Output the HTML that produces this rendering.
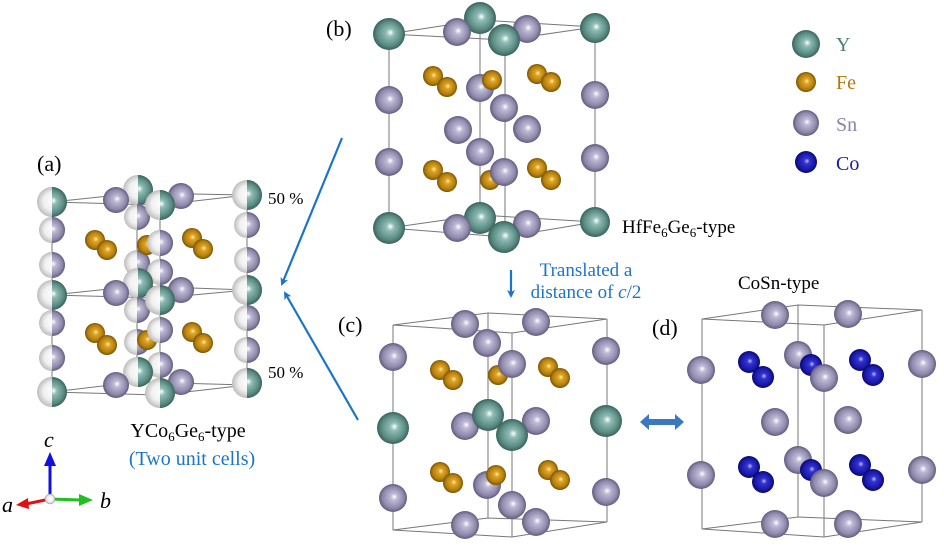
<!DOCTYPE html>
<html><head><meta charset="utf-8"><style>
html,body{margin:0;padding:0;background:#fff;}
svg{display:block;}
text{font-family:"Liberation Serif",serif;}
</style></head><body>
<svg id="s" width="944" height="554" viewBox="0 0 944 554" xmlns="http://www.w3.org/2000/svg">
<defs>
<radialGradient id="gY" cx="0.5" cy="0.5" r="0.5" fx="0.55" fy="0.45"><stop offset="0" stop-color="#ffffff"/><stop offset="0.25" stop-color="#8fbcb4"/><stop offset="0.75" stop-color="#5a8c84"/><stop offset="1" stop-color="#3b635c"/></radialGradient>
<radialGradient id="gS" cx="0.5" cy="0.5" r="0.5" fx="0.55" fy="0.45"><stop offset="0" stop-color="#ffffff"/><stop offset="0.25" stop-color="#bcb8d4"/><stop offset="0.75" stop-color="#8f8aab"/><stop offset="1" stop-color="#625c80"/></radialGradient>
<radialGradient id="gF" cx="0.5" cy="0.5" r="0.5" fx="0.55" fy="0.45"><stop offset="0" stop-color="#fff3b0"/><stop offset="0.25" stop-color="#e0a528"/><stop offset="0.75" stop-color="#b37e0c"/><stop offset="1" stop-color="#7a5200"/></radialGradient>
<radialGradient id="gC" cx="0.5" cy="0.5" r="0.5" fx="0.55" fy="0.45"><stop offset="0" stop-color="#c0c0ff"/><stop offset="0.25" stop-color="#3434d0"/><stop offset="0.75" stop-color="#1818a8"/><stop offset="1" stop-color="#08086a"/></radialGradient>
<radialGradient id="gW" cx="0.5" cy="0.5" r="0.5" fx="0.55" fy="0.45"><stop offset="0" stop-color="#ffffff"/><stop offset="0.6" stop-color="#f0f0f0"/><stop offset="1" stop-color="#bdbdbd"/></radialGradient>
<clipPath id="half" clipPathUnits="objectBoundingBox"><rect x="0.5" y="0" width="0.5" height="1"/></clipPath>
<marker id="ah" markerWidth="8" markerHeight="8" refX="6" refY="4" orient="auto" markerUnits="userSpaceOnUse"><path d="M0,0 L8,4 L0,8 L2,4 Z" fill="#1a75c7"/></marker>
</defs>
<g fill="none" stroke="#777" stroke-width="1">
<path d="M52,202 L137,193 L247,195 L160,205 Z M52,295 L137,286 L247,290 L160,298 Z M52,392 L137,382 L247,385 L160,395 Z M52,202 V392 M137,193 V382 M160,205 V395 M247,195 V385"/>
<path d="M389,34 L480,20 L595,27 L505,40 Z M389,228 L480,215 L595,222 L505,237 Z M389,34 V228 M480,20 V215 M505,40 V237 M595,27 V222"/>
<path d="M393,325 L488,313 L607,319 L512,333 Z M393,530 L488,518 L607,522 L512,537 Z M393,325 V530 M488,313 V518 M512,333 V537 M607,319 V522"/>
<path d="M702,319 L798,305 L922,310 L824,325 Z M702,529 L798,517 L922,522 L824,537 Z M702,319 V529 M798,305 V517 M824,325 V537 M922,310 V522"/>
</g>
<g id="atoms"></g>
<line x1="342" y1="138" x2="282" y2="284" stroke="#1a75c7" stroke-width="2.2" marker-end="url(#ah)"/>
<line x1="358" y1="420" x2="285" y2="293" stroke="#1a75c7" stroke-width="2.2" marker-end="url(#ah)"/>
<line x1="511" y1="270" x2="511" y2="296" stroke="#1a75c7" stroke-width="2.2" marker-end="url(#ah)"/>
<path d="M640,422 L649,414 L649,419 L675,419 L675,414 L684,422 L675,430 L675,425 L649,425 L649,430 Z" fill="#3a78c0"/>
<line x1="50" y1="499" x2="50" y2="464" stroke="#1010e0" stroke-width="3"/><path d="M44,466 L50,452 L56,466 Z" fill="#1010e0"/>
<line x1="50" y1="499" x2="26" y2="504" stroke="#e01010" stroke-width="3"/><path d="M28,498 L16,505 L29,509 Z" fill="#e01010"/>
<line x1="50" y1="499" x2="80" y2="500" stroke="#20c020" stroke-width="3"/><path d="M79,494 L93,500 L79,506 Z" fill="#20c020"/>
<circle cx="50" cy="499" r="5" fill="url(#gW)" stroke="#999" stroke-width="0.5"/>
<text x="44" y="447" font-size="22" font-style="italic">c</text>
<text x="2" y="512" font-size="22" font-style="italic">a</text>
<text x="100" y="508" font-size="22" font-style="italic">b</text>
<text x="37" y="171" font-size="22">(a)</text>
<text x="326" y="36" font-size="22">(b)</text>
<text x="338" y="332" font-size="22">(c)</text>
<text x="652" y="335" font-size="22">(d)</text>
<text x="268" y="204" font-size="17">50 %</text>
<text x="268" y="378" font-size="17">50 %</text>
<text x="622" y="233" font-size="19">HfFe<tspan font-size="13" dy="4">6</tspan><tspan dy="-4">Ge</tspan><tspan font-size="13" dy="4">6</tspan><tspan dy="-4">-type</tspan></text>
<text x="586" y="276" font-size="19" fill="#1a75c7" text-anchor="middle">Translated a</text>
<text x="586" y="298" font-size="19" fill="#1a75c7" text-anchor="middle">distance of <tspan font-style="italic">c</tspan>/2</text>
<text x="738" y="289" font-size="19">CoSn-type</text>
<text x="188" y="437" font-size="20" text-anchor="middle">YCo<tspan font-size="13" dy="4">6</tspan><tspan dy="-4">Ge</tspan><tspan font-size="13" dy="4">6</tspan><tspan dy="-4">-type</tspan></text>
<text x="192" y="465" font-size="20" fill="#1a75c7" text-anchor="middle">(Two unit cells)</text>
<text x="836" y="51" font-size="20" fill="#4e7d75">Y</text>
<text x="836" y="89" font-size="20" fill="#b07a10">Fe</text>
<text x="836" y="131" font-size="20" fill="#8a85a8">Sn</text>
<text x="836" y="170" font-size="20" fill="#1a1aa8">Co</text>
<script>
var A=[
['Y',806,44,14],['F',806,82,10],['S',806,123,13],['C',806,162,11],
['yw',138,190,15],['sw',137,217,13],['yw',52,202,15],['sw',52,230,13],['sw',52,265,13],['yw',52,295,15],['sw',52,323,13],['sw',52,358,13],['yw',52,392,15],
['yw',247,195,15],['sw',247,225,13],['sw',247,260,13],['yw',247,290,15],['sw',247,318,13],['sw',247,350,13],['yw',247,383,15],
['S',116,200,13],['S',181,196,13],['yw',160,205,15],
['F',95,240,10],['F',107,250,10],['sw',137,263,13],['F',147,245,10],['sw',160,243,13],['F',192,238,10],['F',203,249,10],['sw',160,272,13],
['yw',138,283,15],['S',116,293,13],['S',181,290,13],['sw',137,310,13],['yw',160,300,15],
['F',95,333,10],['F',107,345,10],['sw',137,342,13],['F',147,340,10],['sw',160,330,13],['F',192,332,10],['F',203,343,10],['sw',160,365,13],
['yw',138,372,15],['S',116,385,13],['S',181,382,13],['yw',160,393,15],
['Y',480,18,16],['S',457,32,14],['S',527,29,14],['Y',389,34,16],['Y',595,28,15],['Y',504,40,16],
['F',433,76,10],['F',447,87,10],['S',480,88,14],['F',492,80,10],['F',537,74,10],['F',551,82,10],
['S',389,100,14],['S',595,95,14],['S',504,108,14],['S',458,130,14],['S',527,129,14],['S',480,152,14],['S',389,162,14],['S',595,158,14],
['F',433,170,10],['F',447,182,10],['F',490,180,10],['S',504,172,14],['F',537,168,10],['F',551,180,10],
['Y',480,218,16],['S',457,228,14],['S',527,224,14],['Y',389,228,16],['Y',595,222,15],['Y',504,237,16],
['S',465,324,14],['S',536,322,14],['S',487,343,14],['S',393,357,14],['S',606,351,14],
['F',440,370,10],['F',453,380,10],['F',498,375,10],['S',512,364,14],['F',548,367,10],['F',560,378,10],
['S',465,426,14],['S',536,421,14],['Y',393,428,16],['Y',606,421,16],['Y',488,415,16],['Y',512,435,16],
['F',440,472,10],['F',453,483,10],['S',487,485,14],['F',496,475,10],['F',548,470,10],['F',560,480,10],
['S',393,498,14],['S',606,492,14],['S',512,505,14],['S',465,525,14],['S',536,522,14],
['S',775,315,14],['S',848,314,14],['S',701,370,14],['S',922,364,14],
['C',749,362,11],['C',763,377,11],['S',798,355,14],['C',811,365,11],['S',824,378,14],['C',860,360,11],['C',873,375,11],
['S',775,422,14],['S',848,420,14],
['S',701,475,14],['S',922,470,14],
['C',749,467,11],['C',763,482,11],['S',798,460,14],['C',811,470,11],['S',824,483,14],['C',860,465,11],['C',873,480,11],
['S',775,524,14],['S',848,524,14]
];
var g=document.getElementById('atoms'),ns='http://www.w3.org/2000/svg';
function c(x,y,r,f,clip){var e=document.createElementNS(ns,'circle');e.setAttribute('cx',x);e.setAttribute('cy',y);e.setAttribute('r',r);e.setAttribute('fill','url(#'+f+')');if(clip)e.setAttribute('clip-path','url(#half)');g.appendChild(e);}
A.forEach(function(a){var t=a[0];if(t=='yw'){c(a[1],a[2],a[3],'gW');c(a[1],a[2],a[3],'gY',1);}else if(t=='sw'){c(a[1],a[2],a[3],'gW');c(a[1],a[2],a[3],'gS',1);}else c(a[1],a[2],a[3],'g'+t);});
</script>
</svg>
</body></html>
